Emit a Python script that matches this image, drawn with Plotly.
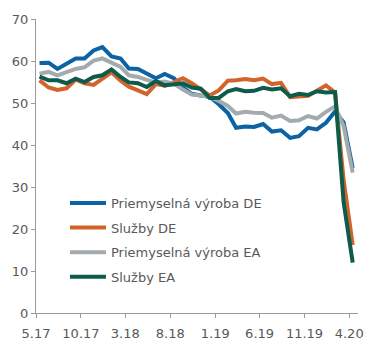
import plotly.graph_objects as go

months = ["2017-05", "2017-06", "2017-07", "2017-08", "2017-09", "2017-10", "2017-11", "2017-12",
          "2018-01", "2018-02", "2018-03", "2018-04", "2018-05", "2018-06", "2018-07", "2018-08",
          "2018-09", "2018-10", "2018-11", "2018-12", "2019-01", "2019-02", "2019-03", "2019-04",
          "2019-05", "2019-06", "2019-07", "2019-08", "2019-09", "2019-10", "2019-11", "2019-12",
          "2020-01", "2020-02", "2020-03", "2020-04"]

priem_de = [59.5, 59.6, 58.1, 59.3, 60.6, 60.6, 62.5, 63.3, 61.1, 60.6, 58.2, 58.1,
            56.9, 55.9, 56.9, 55.9, 53.7, 52.2, 51.8, 51.5, 49.7, 47.6, 44.1, 44.4,
            44.3, 45.0, 43.2, 43.5, 41.7, 42.1, 44.1, 43.7, 45.3, 48.0, 45.4, 34.5]
sluzby_de = [55.4, 53.7, 53.1, 53.5, 55.6, 54.7, 54.3, 55.8, 57.3, 55.3, 53.9, 53.0,
             52.1, 54.5, 54.1, 55.0, 55.9, 54.7, 53.3, 51.8, 53.0, 55.3, 55.4, 55.7,
             55.4, 55.8, 54.5, 54.8, 51.4, 51.6, 51.7, 52.9, 54.2, 52.5, 31.7, 16.2]
priem_ea = [57.0, 57.4, 56.6, 57.4, 58.1, 58.5, 60.1, 60.6, 59.6, 58.6, 56.6, 56.2,
            55.5, 54.9, 55.1, 54.6, 53.2, 52.0, 51.8, 51.4, 50.5, 49.3, 47.5, 47.9,
            47.7, 47.6, 46.5, 47.0, 45.7, 45.9, 46.9, 46.3, 47.9, 49.2, 44.5, 33.4]
sluzby_ea = [56.3, 55.4, 55.4, 54.7, 55.8, 55.0, 56.2, 56.6, 58.0, 56.2, 54.9, 54.7,
             53.8, 55.2, 54.2, 54.4, 54.7, 53.7, 53.4, 51.2, 51.2, 52.8, 53.3, 52.8,
             52.9, 53.6, 53.2, 53.5, 51.6, 52.2, 51.9, 52.8, 52.5, 52.6, 26.4, 12.0]

names = ["Priemyselná výroba DE", "Služby DE", "Priemyselná výroba EA", "Služby EA"]
series = [priem_de, sluzby_de, priem_ea, sluzby_ea]
colors = ["#0b62a4", "#d2632b", "#a3abae", "#0d5c4b"]

dates = [m + "-13" for m in months]

fig = go.Figure()
for i, (n, s, c) in enumerate(zip(names, series, colors)):
    fig.add_trace(go.Scatter(x=dates, y=s, name=n, mode="lines",
                             line=dict(color=c, width=4), legendgroup=str(i)))

font = dict(family="DejaVu Sans", size=13, color="#595959")
axcol = "#9a9a9a"

fig.update_layout(
    width=377, height=353,
    margin=dict(l=32, r=19, t=19, b=35),
    paper_bgcolor="white", plot_bgcolor="white",
    font=font,
    showlegend=True,
    legend=dict(x=0.09, y=0.425, xanchor="left", yanchor="top",
                bgcolor="rgba(0,0,0,0)", font=font, itemwidth=36,
                tracegroupgap=4.7),
    xaxis=dict(type="date", range=["2017-05-01", "2020-05-01"],
               tick0="2017-05-01", dtick="M5", tickformat="%-m.%y",
               showgrid=False, zeroline=False, showline=True, linecolor=axcol,
               linewidth=1, ticks="outside", ticklen=4, tickcolor=axcol,
               tickfont=font, ticklabelstandoff=4),
    yaxis=dict(range=[0, 70], dtick=10, showgrid=False, zeroline=False,
               showline=True, linecolor=axcol, linewidth=1, ticks="outside",
               ticklen=4, tickcolor=axcol, tickfont=font),
)

fig.write_html("out.html")
